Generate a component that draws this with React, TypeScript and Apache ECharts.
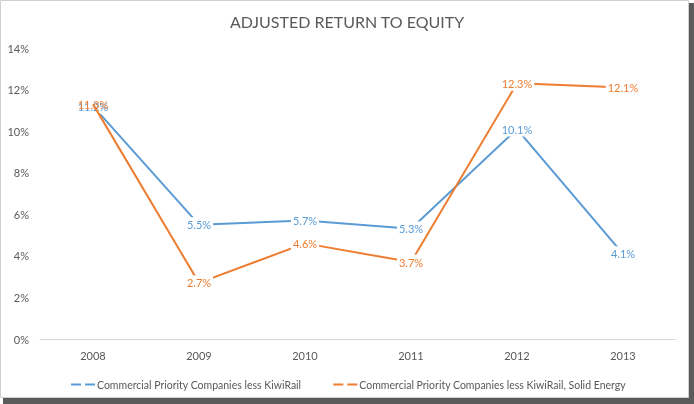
import React, { useEffect, useRef } from "react";
import * as echarts from "echarts";

const years = ["2008", "2009", "2010", "2011", "2012", "2013"];
const lessKiwiRail = [11.2, 5.5, 5.7, 5.3, 10.1, 4.1];
const lessKiwiRailSolidEnergy = [11.3, 2.7, 4.6, 3.7, 12.3, 12.1];
const seriesNames = [
  "Commercial Priority Companies less KiwiRail",
  "Commercial Priority Companies less KiwiRail, Solid Energy",
];
const yTicks = { min: 0, max: 14, interval: 2 };

const FONT = "Lato";
const TEXT = "#595959";
const BLUE = "#5B9BD5";
const ORANGE = "#ED7D31";

function mkData(values: number[], plainIdx: number[]) {
  return values.map((v, i) => ({
    value: v,
    label: plainIdx.includes(i) ? { backgroundColor: "transparent" } : undefined,
  }));
}

export default function App() {
  const ref = useRef<HTMLDivElement>(null);
  useEffect(() => {
    if (!ref.current) return;
    const chart = echarts.init(ref.current, undefined, { renderer: "svg" });
    const labelBase = (color: string) => ({
      show: true,
      position: "inside",
      formatter: (p: any) => Number(p.value).toFixed(1) + "%",
      color,
      fontFamily: FONT,
      fontSize: 11,
      backgroundColor: "#ffffff",
      padding: [2, 2],
    });
    const dashIcon = "path://M0,0 H10 V2 H0 Z M14,0 H24 V2 H14 Z";
    chart.setOption({
      animation: false,
      backgroundColor: "transparent",
      graphic: [
        { type: "rect", z: -10, shape: { x: 3, y: 3, width: 691, height: 401 }, style: { fill: "#5a5a5a" }, silent: true },
        { type: "rect", z: -9, shape: { x: 0.5, y: 0.5, width: 688, height: 397 }, style: { fill: "#ffffff", stroke: "#d0d0d0", lineWidth: 1 }, silent: true },
      ],
      title: {
        text: "ADJUSTED RETURN TO EQUITY",
        left: "center",
        top: 8,
        textStyle: { fontFamily: FONT, fontSize: 16, fontWeight: "normal", color: TEXT },
      },
      grid: { left: 40, right: 18, top: 48, bottom: 65, containLabel: false },
      legend: {
        top: 374,
        left: 66,
        itemWidth: 24,
        itemHeight: 2,
        itemGap: 32,
        icon: dashIcon,
        textStyle: { fontFamily: FONT, fontSize: 10.5, color: TEXT, padding: [0, 0, 0, -3] },
        data: seriesNames,
      },
      xAxis: {
        type: "category",
        data: years,
        boundaryGap: true,
        axisLine: { lineStyle: { color: "#d9d9d9", width: 1 } },
        axisTick: { show: false },
        axisLabel: { color: TEXT, fontFamily: FONT, fontSize: 11, margin: 11 },
      },
      yAxis: {
        type: "value",
        min: yTicks.min,
        max: yTicks.max,
        interval: yTicks.interval,
        axisLine: { show: false },
        axisTick: { show: false },
        splitLine: { show: false },
        axisLabel: { color: TEXT, fontFamily: FONT, fontSize: 11, margin: 11, formatter: "{value}%" },
      },
      series: [
        {
          name: seriesNames[0],
          type: "line",
          data: mkData(lessKiwiRail, []),
          symbol: "circle",
          symbolSize: 0,
          showSymbol: true,
          lineStyle: { color: BLUE, width: 2 },
          itemStyle: { color: BLUE },
          label: labelBase(BLUE),
          labelLayout: { hideOverlap: false },
          z: 2,
        },
        {
          name: seriesNames[1],
          type: "line",
          data: mkData(lessKiwiRailSolidEnergy, [0]),
          symbol: "circle",
          symbolSize: 0,
          showSymbol: true,
          lineStyle: { color: ORANGE, width: 2 },
          itemStyle: { color: ORANGE },
          label: labelBase(ORANGE),
          labelLayout: { hideOverlap: false },
          z: 3,
        },
      ],
    });
    return () => chart.dispose();
  }, []);
  return (
    <div
      ref={ref}
      style={{ position: "fixed", left: 0, top: 0, width: 694, height: 404 }}
    />
  );
}
